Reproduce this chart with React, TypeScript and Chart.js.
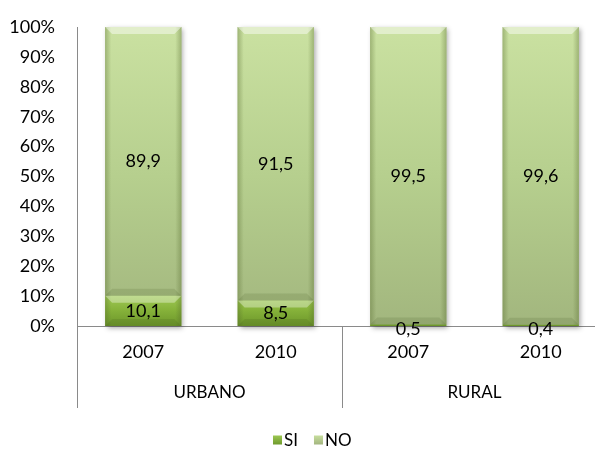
import React, { useEffect, useRef } from "react";
import { Chart, registerables } from "chart.js";

Chart.register(...registerables);

const years = ["2007", "2010", "2007", "2010"];
const groups = ["URBANO", "RURAL"];
const groupSpans = [[0, 1], [2, 3]];
const siValues = [10.1, 8.5, 0.5, 0.4];
const noValues = [89.9, 91.5, 99.5, 99.6];
const yTicks = [0, 10, 20, 30, 40, 50, 60, 70, 80, 90, 100];
const seriesNames = ["SI", "NO"];

const FONT = "Lato, 'Open Sans', sans-serif";
const AXIS = "#8a8a8a";

const fmt = (v: number) => v.toFixed(1).replace(".", ",");

const drawPlugin = {
  id: "custom",
  beforeDatasetsDraw(chart: any) {
    const { ctx, chartArea, scales } = chart;
    const x = scales.x;
    ctx.save();
    ctx.strokeStyle = AXIS;
    ctx.lineWidth = 1;
    const lx = Math.round(chartArea.left) + 0.5;
    const by = Math.round(chartArea.bottom) + 0.5;
    ctx.beginPath();
    ctx.moveTo(lx, chartArea.top);
    ctx.lineTo(lx, 408);
    ctx.moveTo(chartArea.left, by);
    ctx.lineTo(chartArea.right, by);
    groupSpans.forEach((span) => {
      const last = span[span.length - 1];
      let dx: number;
      if (last + 1 < years.length) {
        dx = (x.getPixelForValue(last) + x.getPixelForValue(last + 1)) / 2;
      } else {
        dx = chartArea.right;
      }
      dx = Math.round(dx) + 0.5;
      ctx.moveTo(dx, by);
      ctx.lineTo(dx, 408);
    });
    ctx.stroke();

    const metas = chart.getSortedVisibleDatasetMetas();
    for (let i = 0; i < years.length; i++) {
      let top = Infinity;
      let base = 0;
      let left = 0;
      let w = 0;
      metas.forEach((m: any) => {
        const el = m.data[i];
        const p = el.getProps(["x", "y", "base", "width"], true);
        top = Math.min(top, p.y, p.base);
        base = Math.max(base, p.base, p.y);
        left = p.x - p.width / 2;
        w = p.width;
      });
      ctx.save();
      ctx.shadowColor = "rgba(0,0,0,0.35)";
      ctx.shadowBlur = 5;
      ctx.shadowOffsetX = 2;
      ctx.shadowOffsetY = 2;
      ctx.fillStyle = "#a9bb86";
      ctx.fillRect(left, top, w, base - top);
      ctx.restore();
    }
    ctx.restore();
  },
  afterDatasetsDraw(chart: any) {
    const { ctx } = chart;
    const metas = chart.getSortedVisibleDatasetMetas();
    ctx.save();
    metas.forEach((m: any, di: number) => {
      m.data.forEach((el: any) => {
        const p = el.getProps(["x", "y", "base", "width"], true);
        const l = p.x - p.width / 2;
        const r = p.x + p.width / 2;
        const t = Math.min(p.y, p.base);
        const b = Math.max(p.y, p.base);
        const h = b - t;
        if (h < 2) return;
        const g = ctx.createLinearGradient(l, 0, r, 0);
        g.addColorStop(0, "rgba(80,100,40,0.35)");
        g.addColorStop(0.08, "rgba(80,100,40,0.0)");
        g.addColorStop(0.92, "rgba(80,100,40,0.0)");
        g.addColorStop(1, "rgba(80,100,40,0.35)");
        ctx.fillStyle = g;
        ctx.fillRect(l, t, r - l, h);
        if (h > 12) {
          const bv = 7;
          ctx.fillStyle = di === 0 ? "rgba(255,255,255,0.35)" : "rgba(255,255,255,0.45)";
          ctx.beginPath();
          ctx.moveTo(l, t);
          ctx.lineTo(r, t);
          ctx.lineTo(r - bv, t + bv);
          ctx.lineTo(l + bv, t + bv);
          ctx.closePath();
          ctx.fill();
          ctx.fillStyle = "rgba(60,80,30,0.15)";
          ctx.beginPath();
          ctx.moveTo(l, b);
          ctx.lineTo(r, b);
          ctx.lineTo(r - bv, b - bv);
          ctx.lineTo(l + bv, b - bv);
          ctx.closePath();
          ctx.fill();
        }
      });
    });
    ctx.restore();
  },
  afterDraw(chart: any) {
    const { ctx, scales } = chart;
    const x = scales.x;
    const y = scales.y;
    ctx.save();
    ctx.fillStyle = "#000";
    ctx.font = `18px ${FONT}`;
    ctx.textAlign = "right";
    ctx.textBaseline = "middle";
    yTicks.forEach((v) => {
      ctx.fillText(`${v}%`, 55, y.getPixelForValue(v));
    });
    ctx.textAlign = "center";
    years.forEach((yr, i) => {
      ctx.fillText(yr, x.getPixelForValue(i), 352);
    });
    ctx.font = `17px ${FONT}`;
    groups.forEach((g, gi) => {
      const span = groupSpans[gi];
      const cx = (x.getPixelForValue(span[0]) + x.getPixelForValue(span[span.length - 1])) / 2;
      ctx.fillText(g, cx, 393);
    });
    ctx.font = `18px ${FONT}`;
    const metas = chart.getSortedVisibleDatasetMetas();
    metas.forEach((m: any) => {
      const ds = chart.data.datasets[m.index];
      m.data.forEach((el: any, i: number) => {
        const p = el.getProps(["x", "y", "base"], true);
        const cy = (p.y + p.base) / 2 + (ds.data[i] < 2 ? 4 : 0);
        ctx.fillText(fmt(ds.data[i]), p.x, cy);
      });
    });
    ctx.font = `17px ${FONT}`;
    ctx.textAlign = "left";
    const legendColors = [["#9cc752", "#6f9a2c"], ["#c7de9e", "#a3b57f"]];
    let lxp = 273;
    const ly = 440;
    seriesNames.forEach((name, i) => {
      const g = ctx.createLinearGradient(0, ly - 4.5, 0, ly + 4.5);
      g.addColorStop(0, legendColors[i][0]);
      g.addColorStop(1, legendColors[i][1]);
      ctx.fillStyle = g;
      ctx.fillRect(lxp, ly - 4.5, 9, 9);
      ctx.fillStyle = "#000";
      ctx.fillText(name, lxp + 11, ly + 1);
      lxp += 11 + ctx.measureText(name).width + 16;
    });
    ctx.restore();
  },
};

export default function App() {
  const ref = useRef<HTMLCanvasElement | null>(null);
  useEffect(() => {
    if (!ref.current) return;
    const chart = new Chart(ref.current, {
      type: "bar",
      data: {
        labels: years,
        datasets: [
          {
            label: seriesNames[0],
            data: siValues,
            backgroundColor: (c: any) => {
              const area = c.chart.chartArea;
              if (!area) return "#88b53a";
              const g = c.chart.ctx.createLinearGradient(0, area.bottom - 32, 0, area.bottom);
              g.addColorStop(0, "#a2cc58");
              g.addColorStop(0.5, "#86b23a");
              g.addColorStop(1, "#6c962a");
              return g;
            },
            borderWidth: 0,
          },
          {
            label: seriesNames[1],
            data: noValues,
            backgroundColor: (c: any) => {
              const area = c.chart.chartArea;
              if (!area) return "#b5cf8c";
              const g = c.chart.ctx.createLinearGradient(0, area.top, 0, area.bottom);
              g.addColorStop(0, "#cae1a1");
              g.addColorStop(0.5, "#b6cf8e");
              g.addColorStop(1, "#a2b67e");
              return g;
            },
            borderWidth: 0,
          },
        ],
      },
      options: {
        responsive: false,
        animation: false,
        devicePixelRatio: 1,
        layout: { padding: { left: 77, top: 27, right: 13, bottom: 124 } },
        datasets: { bar: { categoryPercentage: 1, barPercentage: 0.575 } },
        scales: {
          x: { stacked: true, display: false },
          y: { stacked: true, display: false, min: 0, max: 100 },
        },
        plugins: { legend: { display: false }, tooltip: { enabled: false } },
      },
      plugins: [drawPlugin],
    });
    return () => chart.destroy();
  }, []);
  return (
    <div
      style={{
        position: "absolute",
        left: 0,
        top: 0,
        width: 595,
        height: 450,
        overflow: "hidden",
        background: "#fff",
      }}
    >
      <canvas ref={ref} width={620} height={450} style={{ display: "block" }} />
    </div>
  );
}
